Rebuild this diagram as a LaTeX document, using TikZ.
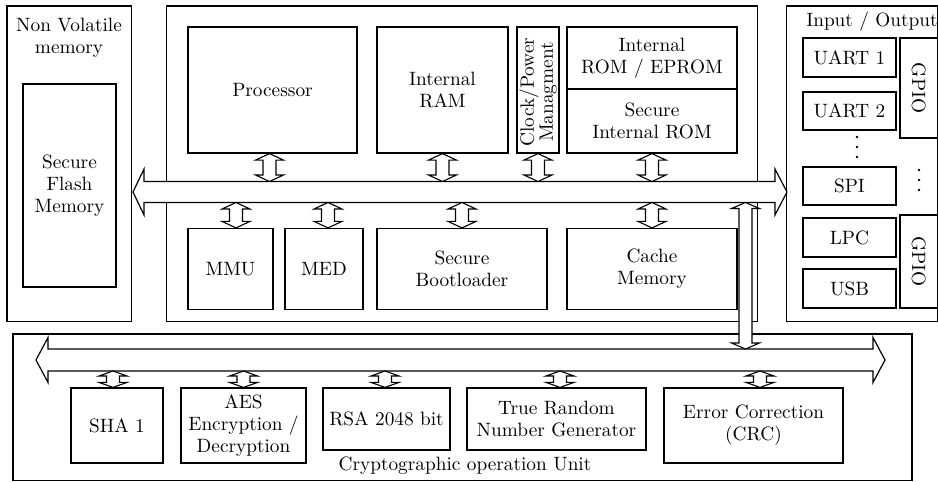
\documentclass[tikz,border=0pt]{standalone}
\usepackage{fontspec}
\setmainfont{lmroman10-regular.otf}
\usetikzlibrary{calc}

\tikzset{
  every node/.style={font=\fontsize{19.3}{21.8}\selectfont, inner sep=0pt},
  blk/.style={draw, line width=1.2pt, align=center},
  bus/.style={draw, fill=white, line width=1.2pt, line join=miter, miter limit=25},
  link/.style={draw, fill=white, line width=1.1pt, line join=miter, miter limit=25},
  vdot/.style={fill=black},
}

% rectangular block given by two corners: name, x1, y1, x2, y2, text
\newcommand\blk[6]{%
  \node[blk, minimum width={(#4-#2)*1pt}, minimum height={(#5-#3)*1pt}]
    (#1) at ({(#2+#4)/2},{(#3+#5)/2}) {#6};}

% vertical two-headed connector: #1 head length, #2 upper end, #3 lower end
\newcommand\vlink[3][6.5pt]{%
  \path[link] let \p1=(#2), \p2=(#3) in
    (\x1,\y1) -- (\x1+14pt,\y1-#1) -- (\x1+6.5pt,\y1-#1) -- (\x1+6.5pt,\y2+#1)
    -- (\x1+14pt,\y2+#1) -- (\x1,\y2) -- (\x1-14pt,\y2+#1) -- (\x1-6.5pt,\y2+#1)
    -- (\x1-6.5pt,\y1-#1) -- (\x1-14pt,\y1-#1) -- cycle;}

\begin{document}
\begin{tikzpicture}[x=1pt,y=-1pt]
\useasboundingbox (0,0) rectangle (938,482);
\fill[white] (0,0) rectangle (938,482);

% ---------- non volatile memory ----------
\blk{nv}{7}{6}{131.5}{321.5}{}
\node[anchor=north, align=center] (nvlbl) at (69,18) {Non Volatile\\memory};
\blk{flash}{23}{84}{116}{287}{Secure\\Flash\\Memory}

% ---------- core ----------
\blk{core}{166.5}{6}{757.5}{321.5}{}
\blk{proc}{188}{27}{357}{153}{Processor}
\blk{ram}{377}{27}{508}{153}{Internal\\RAM}
\blk{clk}{517}{27}{559}{153}{}
\node[rotate=90, align=center, font=\fontsize{19.3}{16.5}\selectfont] (clklbl) at (538,92) {Clock/Power\\Managment};
\blk{rom}{567}{27}{737}{89}{Internal\\ROM / EPROM}
\blk{srom}{567}{89}{737}{153}{Secure\\Internal ROM}
\blk{mmu}{188}{228.5}{273}{309.5}{MMU}
\blk{med}{285}{228.5}{363}{309.5}{MED}
\blk{boot}{377}{228.5}{547}{309.5}{Secure\\Bootloader}
\blk{cache}{567}{228.5}{737}{309.5}{Cache\\Memory}

% ---------- input / output ----------
\blk{io}{786.5}{6}{937.4}{321.5}{}
\node[anchor=base] (iolbl) at (872,26) {Input / Output};
\blk{uart1}{803}{38}{896}{77}{UART 1}
\blk{uart2}{803}{92}{896}{130}{UART 2}
\blk{spi}{803}{167}{896}{205}{SPI}
\blk{lpc}{803}{218}{896}{257}{LPC}
\blk{usb}{803}{269}{896}{308}{USB}
\blk{gpioa}{900}{38}{937.4}{138}{}
\node[rotate=-90] (gpioalbl) at (gpioa) {GPIO};
\blk{gpiob}{900}{215}{937.4}{308}{}
\node[rotate=-90] (gpioblbl) at (gpiob) {GPIO};
% vertical ellipses
\foreach \y in {137,147,157} \fill[vdot] (857,\y) circle (1.4);
\foreach \y in {170,180,190} \fill[vdot] (919,\y) circle (1.4);

% ---------- cryptographic unit ----------
\blk{crypto}{13}{334}{912}{480.6}{}
\node[anchor=base] (cryptolbl) at (465,470) {Cryptographic operation Unit};
\blk{sha}{71}{388}{163}{463}{SHA 1}
\blk{aes}{181}{388}{306}{463}{AES\\Encryption /\\Decryption}
\blk{rsa}{323}{388}{450}{450}{RSA 2048 bit}
\blk{trng}{467}{388}{646}{450}{True Random\\Number Generator}
\blk{ecc}{664}{388}{843}{463}{Error Correction\\(CRC)}

% ---------- system bus ----------
\coordinate (b1t) at (0,181.5);
\coordinate (b1b) at (0,202.5);
\path[bus] (133,192) -- (144,169) -- (144,181.5) -- (775,181.5) -- (775,169)
  -- (787,192) -- (775,215) -- (775,202.5) -- (144,202.5) -- (144,215) -- cycle;

% ---------- crypto bus ----------
\coordinate (b2t) at (0,349);
\coordinate (b2b) at (0,371);
\path[bus] (36,360) -- (48,337.5) -- (48,349) -- (873,349) -- (873,337.5)
  -- (885,360) -- (873,382.5) -- (873,371) -- (48,371) -- (48,382.5) -- cycle;

% ---------- connectors to the system bus ----------
\vlink{[xshift=-3pt]proc.south}{proc.south |- b1t}
\vlink{ram.south}{ram.south |- b1t}
\vlink{clk.south}{clk.south |- b1t}
\vlink{srom.south}{srom.south |- b1t}
\vlink{[xshift=5.5pt]mmu.north |- b1b}{mmu.north}
\vlink{[xshift=4pt]med.north |- b1b}{med.north}
\vlink{boot.north |- b1b}{boot.north}
\vlink{cache.north |- b1b}{cache.north}

% ---------- connectors to the crypto bus ----------
\vlink[5pt]{[xshift=-4pt]sha.north |- b2b}{sha.north}
\vlink[5pt]{aes.north |- b2b}{aes.north}
\vlink[5pt]{[xshift=-1.5pt]rsa.north |- b2b}{rsa.north}
\vlink[5pt]{[xshift=3.5pt]trng.north |- b2b}{trng.north}
\vlink[5pt]{[xshift=6.5pt]ecc.north |- b2b}{ecc.north}

% ---------- bridge between the two buses ----------
\coordinate (bridge) at (745.5,202.5);
\vlink[6pt]{bridge}{bridge |- b2t}
\end{tikzpicture}
\end{document}
